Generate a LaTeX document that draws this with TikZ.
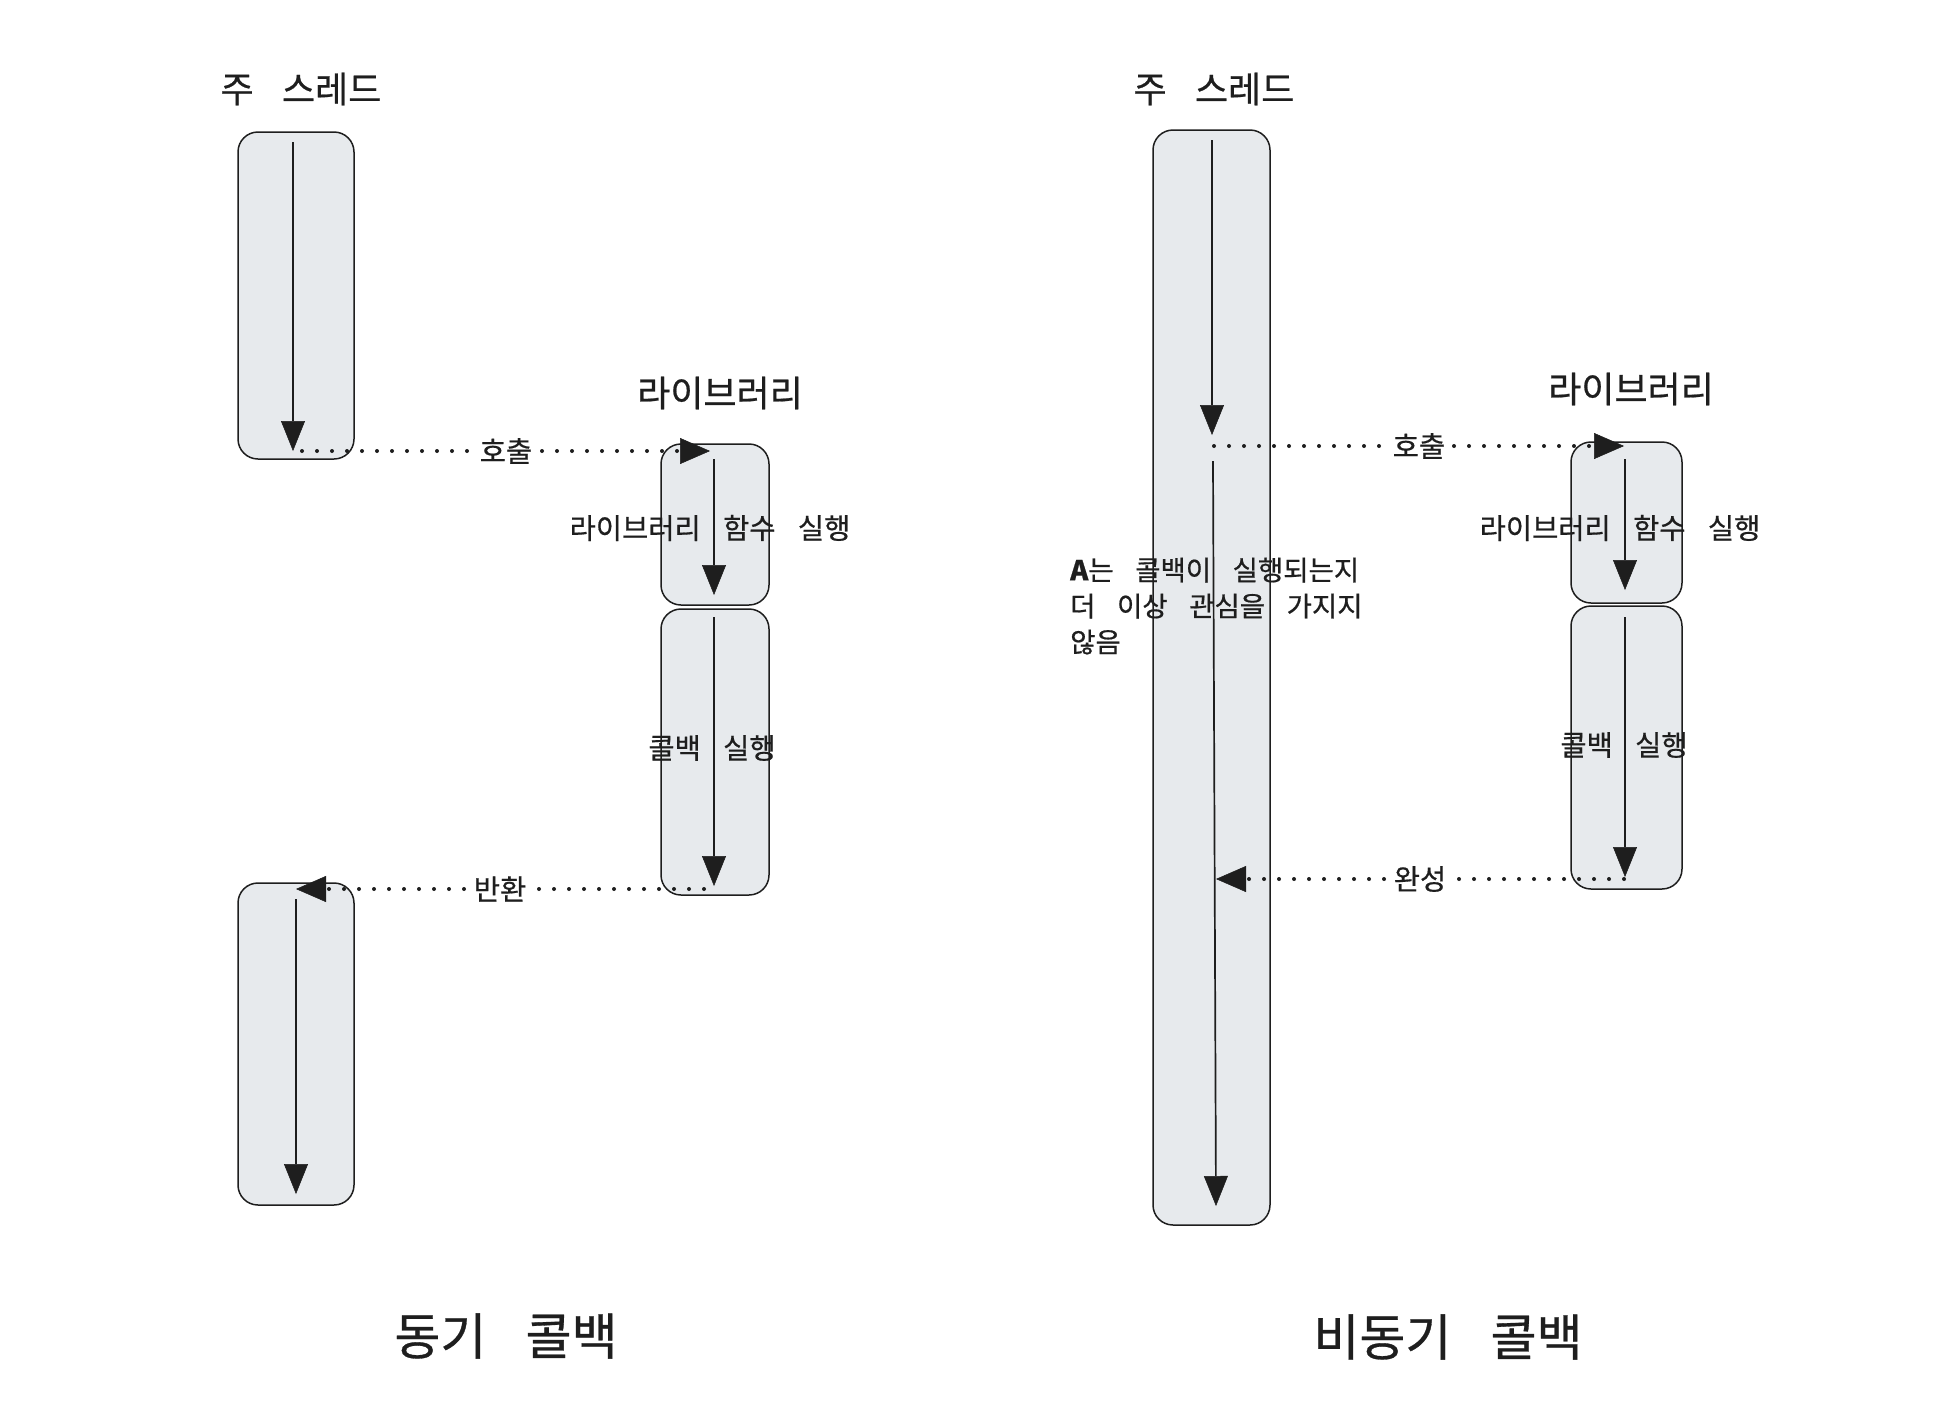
\documentclass[tikz,border=0pt]{standalone}
\usepackage{fontspec}
\newfontfamily\kr[WordSpace=2.5,FakeBold=0.6]{Noto Sans CJK KR}
\newfontfamily\krw[WordSpace=3.5,FakeBold=0.6]{Noto Sans CJK KR}
\usetikzlibrary{arrows.meta}
\definecolor{boxfill}{HTML}{E7EAED}
\definecolor{ink}{HTML}{1E1E1E}
\begin{document}
\begin{tikzpicture}[x=1pt,y=-1pt,
  lane/.style={draw=ink, fill=boxfill, line width=1.5pt, rounded corners=20pt, inner sep=0pt},
  flow/.style={draw=ink, line width=1.7pt, -{Triangle[length=30pt,width=24pt,line width=0.5pt]}},
  msg/.style={draw=ink, line width=4pt, line cap=round, dash pattern=on 0pt off 15pt,
    -{Triangle[length=30pt,width=26pt,line width=0.5pt]}},
  msglabel/.style={fill=white, inner sep=5pt, text=ink, font=\kr\fontsize{28.5}{32}\selectfont},
  inlabel/.style={inner sep=0pt, text=ink, font=\kr\fontsize{28.5}{32}\selectfont},
  title/.style={inner sep=0pt, text=ink, font=\kr\fontsize{36}{42}\selectfont},
  bigtitle/.style={inner sep=0pt, text=ink, font=\krw\fontsize{50}{56}\selectfont},
  note/.style={inner sep=0pt, text=ink, align=left, font=\kr\fontsize{27.5}{36}\selectfont}]
\fill[white] (0,0) rectangle (1936,1414);
\useasboundingbox (0,0) rectangle (1936,1414);

% ---------- left: synchronous ----------
\node[title] (t1) at (301,89) {주 스레드};
\node[title] (l1) at (720,393) {라이브러리};
\node[lane, minimum width=116pt, minimum height=327pt] (a1) at (296,295.5) {};
\node[lane, minimum width=108pt, minimum height=161pt] (b1) at (715,524.5) {};
\node[lane, minimum width=108pt, minimum height=286pt] (b2) at (715,752) {};
\node[lane, minimum width=116pt, minimum height=322pt] (a2) at (296,1044) {};

\node[inlabel] (b1t) at (710,528) {라이브러리 함수 실행};
\node[inlabel] (b2t) at (712,748) {콜백 실행};

\coordinate (a1s) at (293,142); \coordinate (a1e) at (293,451);
\coordinate (b1s) at (714,459); \coordinate (b1e) at (714,595);
\coordinate (b2s) at (714,617); \coordinate (b2e) at (714,886);
\coordinate (a2s) at (296,899); \coordinate (a2e) at (296,1194);
\coordinate (c1s) at (302,451); \coordinate (c1e) at (710,451);
\coordinate (r1s) at (704,889); \coordinate (r1e) at (296,889);

\draw[flow] (a1s) -- (a1e);
\draw[flow] (b1s) -- (b1e);
\draw[flow] (b2s) -- (b2e);
\draw[flow] (a2s) -- (a2e);
\draw[msg] (c1s) -- node[msglabel] (c1t) {호출} (c1e);
\draw[msg] (r1s) -- node[msglabel] (r1t) {반환} (r1e);

\node[bigtitle] (s1) at (506,1336) {동기 콜백};

% ---------- right: asynchronous ----------
\node[title] (t2) at (1214,89) {주 스레드};
\node[title] (l2) at (1631,389) {라이브러리};
\node[lane, minimum width=117pt, minimum height=1095pt] (c) at (1211.5,677.5) {};
\node[lane, minimum width=111pt, minimum height=161pt] (d1) at (1626.5,522.5) {};
\node[lane, minimum width=111pt, minimum height=283pt] (d2) at (1626.5,747.5) {};

\node[inlabel] (d1t) at (1620,528) {라이브러리 함수 실행};
\node[inlabel] (d2t) at (1624,745) {콜백 실행};
\node[note, anchor=west] (nt) at (1070,606) {{\bfseries A}는 콜백이 실행되는지\\더 이상 관심을 가지지\\않음};

\coordinate (cas) at (1212,140); \coordinate (cae) at (1212,435);
\coordinate (cbs) at (1213,461); \coordinate (cbe) at (1216,1206);
\coordinate (d1s) at (1625,459); \coordinate (d1e) at (1625,590);
\coordinate (d2s) at (1625,617); \coordinate (d2e) at (1625,877);
\coordinate (c2s) at (1214,446); \coordinate (c2e) at (1624,446);
\coordinate (f2s) at (1624,879); \coordinate (f2e) at (1216,879);

\draw[flow] (cas) -- (cae);
\draw[flow] (cbs) -- (cbe);
\draw[flow] (d1s) -- (d1e);
\draw[flow] (d2s) -- (d2e);
\draw[msg] (c2s) -- node[msglabel] (c2t) {호출} (c2e);
\draw[msg] (f2s) -- node[msglabel] (f2t) {완성} (f2e);

\node[bigtitle] (s2) at (1448,1337) {비동기 콜백};
\end{tikzpicture}
\end{document}
